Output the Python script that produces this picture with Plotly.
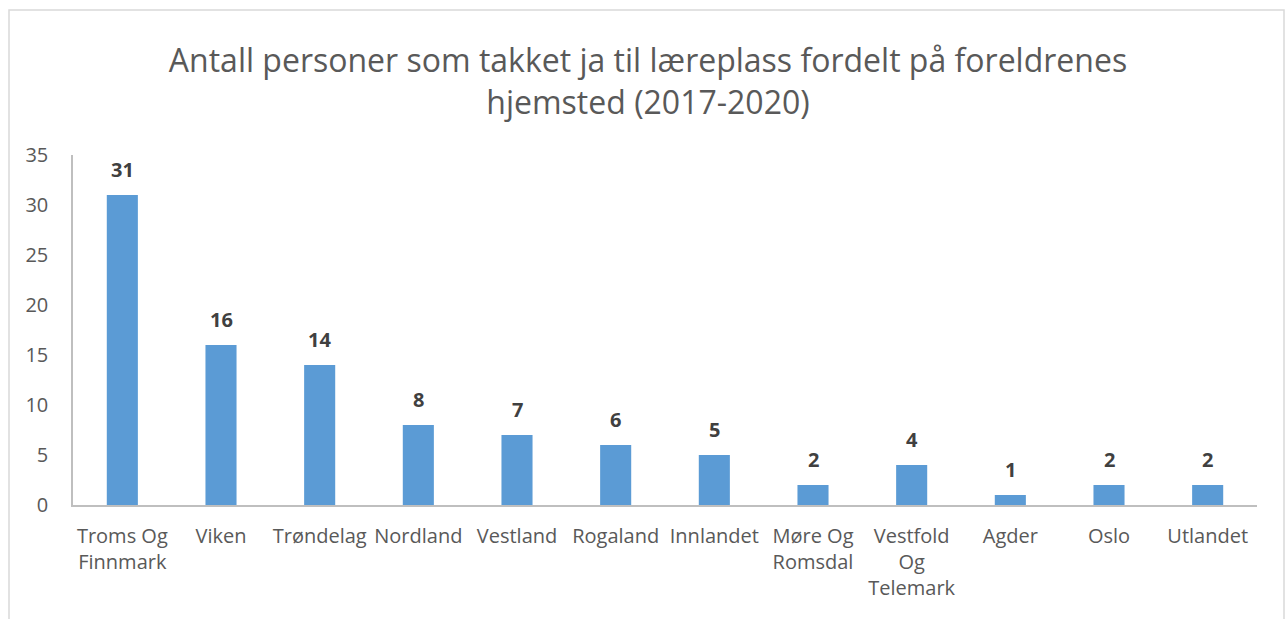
import plotly.graph_objects as go

regions = ["Troms Og<br>Finnmark", "Viken", "Trøndelag", "Nordland", "Vestland",
           "Rogaland", "Innlandet", "Møre Og<br>Romsdal", "Vestfold<br>Og<br>Telemark",
           "Agder", "Oslo", "Utlandet"]
persons = [31, 16, 14, 8, 7, 6, 5, 2, 4, 1, 2, 2]
y_ticks = [0, 5, 10, 15, 20, 25, 30, 35]

title_text = ("Antall personer som takket ja til læreplass fordelt på foreldrenes<br>"
              "hjemsted (2017-2020)")

FONT = "'Open Sans', sans-serif"
W, H = 1287, 619
L, R, T, B = 73, 30, 155, 114

fig = go.Figure()
fig.add_trace(go.Bar(
    x=regions, y=persons,
    marker=dict(color="#5B9BD5", line=dict(width=0)),
    width=0.315,
    hoverinfo="x+y",
))

# value labels above each bar
for r, v in zip(regions, persons):
    fig.add_annotation(x=r, y=v, text=f"<b>{v}</b>", showarrow=False,
                       yanchor="bottom", yshift=10,
                       font=dict(family=FONT, size=20, color="#404040"))

# outer chart frame
pw, ph = W - L - R, H - T - B
fig.add_shape(type="rect", xref="paper", yref="paper",
              x0=(9 - L) / pw, x1=(1284 - L) / pw,
              y0=(H - B - 640) / ph, y1=(H - B - 10) / ph,
              line=dict(color="#D9D9D9", width=1.5), fillcolor="rgba(0,0,0,0)",
              layer="below")

fig.update_layout(
    width=W, height=H,
    margin=dict(l=L, r=R, t=T, b=B),
    paper_bgcolor="white", plot_bgcolor="white",
    showlegend=False,
    title=dict(text=title_text, x=648 / W, xref="container", xanchor="center",
               y=1 - 72 / H, yanchor="middle",
               font=dict(family=FONT, size=32, color="#595959")),
    font=dict(family=FONT, size=20, color="#595959"),
    xaxis=dict(showline=True, linecolor="#BFBFBF", linewidth=1.5,
               showgrid=False, ticks="", tickangle=0,
               ticklabelstandoff=12,
               tickfont=dict(family=FONT, size=20, color="#595959")),
    yaxis=dict(range=[0, 35], tickvals=y_ticks, showline=True,
               linecolor="#BFBFBF", linewidth=1.5,
               showgrid=False, zeroline=False, ticks="",
               ticklabelstandoff=19,
               tickfont=dict(family=FONT, size=20, color="#595959")),
)

fig.write_html("out.html")
